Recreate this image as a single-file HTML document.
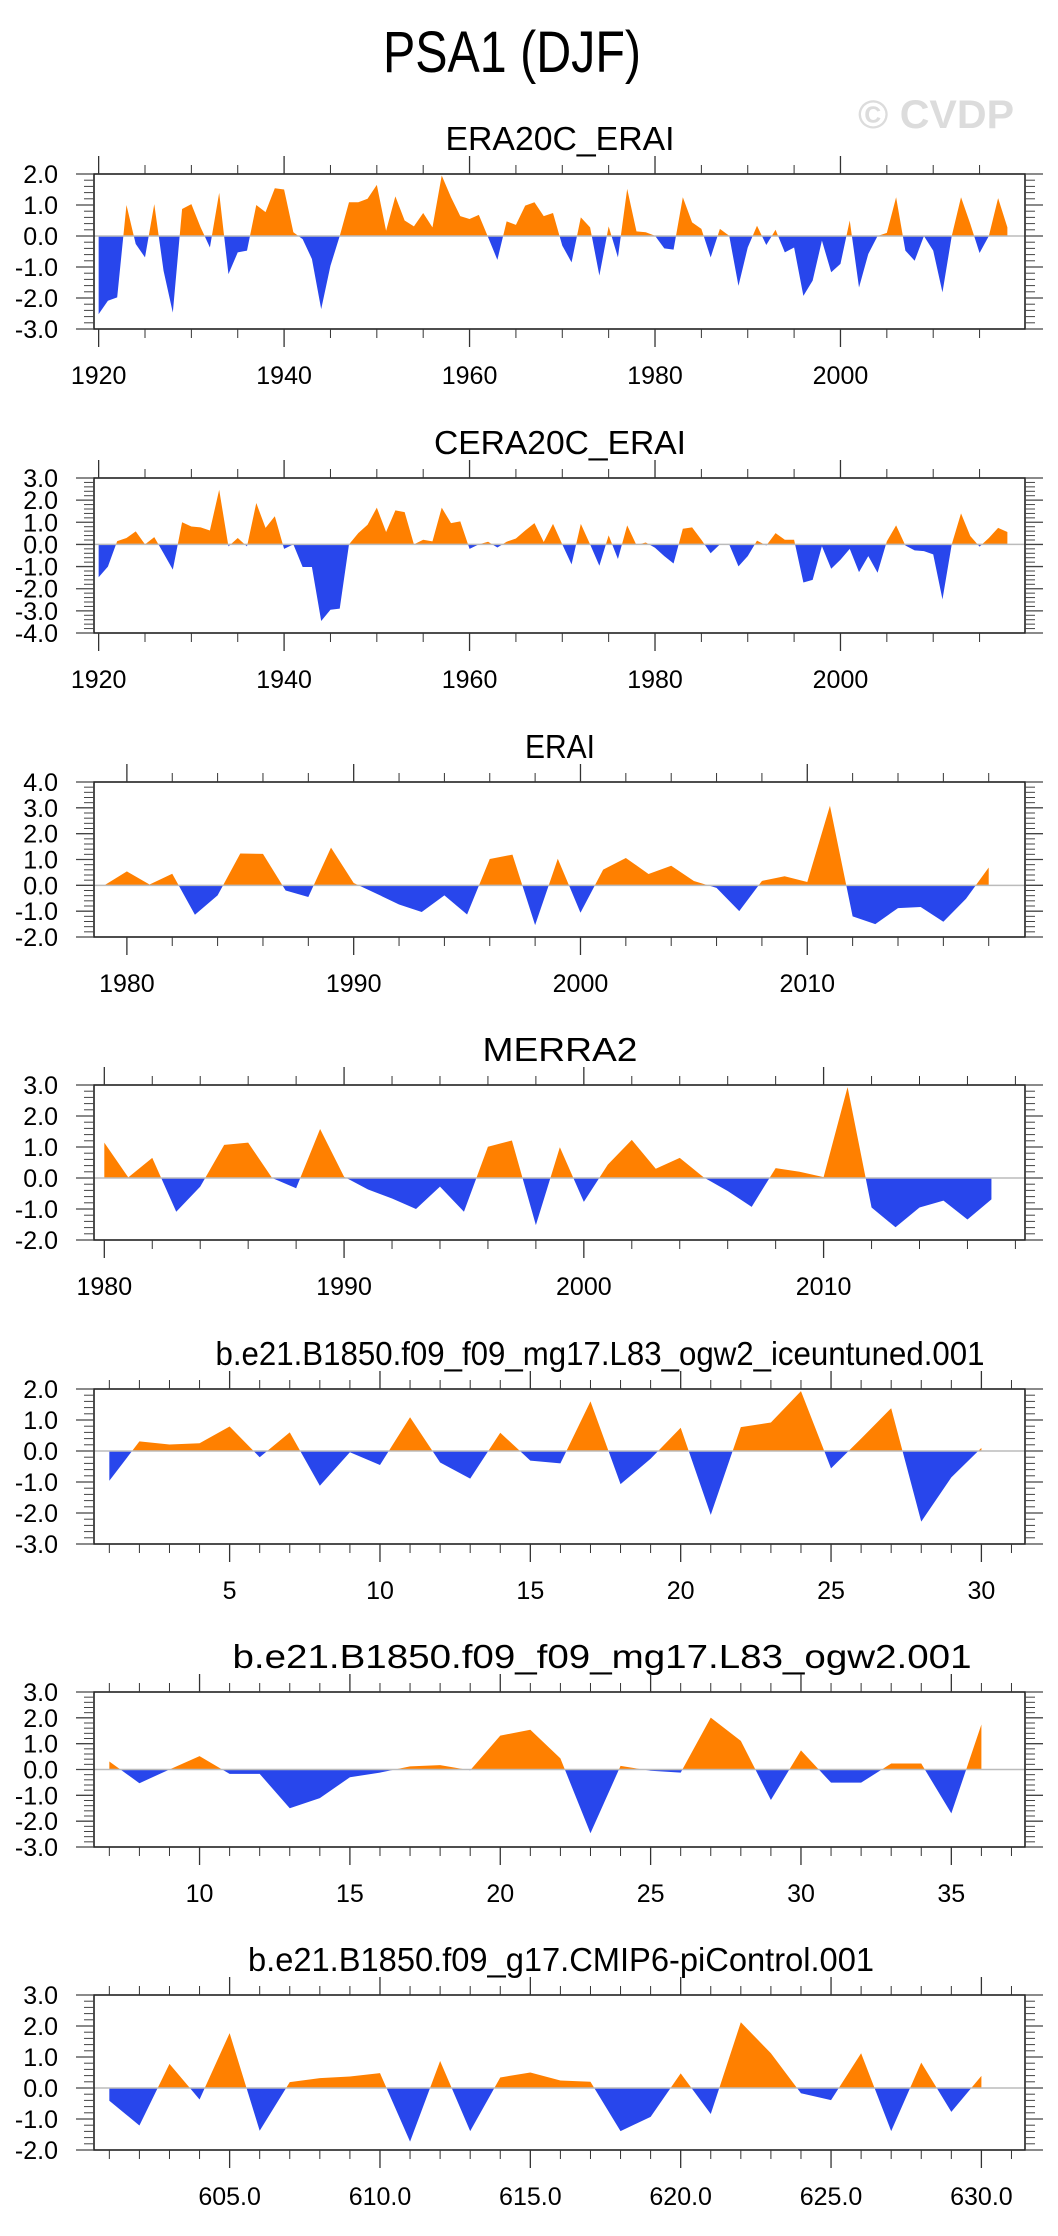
<!DOCTYPE html>
<html><head><meta charset="utf-8"><style>
html,body{margin:0;padding:0;background:#fff;}
svg{display:block;font-family:"Liberation Sans",Arial,sans-serif;}
</style></head><body>
<svg id="chart" width="1058" height="2236" viewBox="0 0 1058 2236" xmlns="http://www.w3.org/2000/svg">
<text x="512" y="72" font-size="58" text-anchor="middle" textLength="258" lengthAdjust="spacingAndGlyphs">PSA1 (DJF)</text>
<text x="936" y="128" font-size="40" font-weight="bold" fill="#dcdcdc" text-anchor="middle" textLength="156" lengthAdjust="spacingAndGlyphs">© CVDP</text>
</svg>
<script>
const era20cYears = [1920, 2018];
const era20cValues = [-2.52,-2.09,-1.98,1.0,-0.26,-0.69,1.03,-1.12,-2.47,0.87,1.03,0.28,-0.37,1.39,-1.23,-0.53,-0.47,1.0,0.77,1.54,1.5,0.12,-0.1,-0.74,-2.36,-0.96,0,1.09,1.09,1.2,1.65,0.17,1.28,0.5,0.31,0.74,0.28,1.95,1.25,0.64,0.55,0.68,-0.04,-0.77,0.47,0.36,0.98,1.09,0.64,0.74,-0.31,-0.85,0.6,0.28,-1.28,0.31,-0.69,1.52,0.15,0.12,0.01,-0.4,-0.44,1.25,0.44,0.23,-0.69,0.23,0.01,-1.61,-0.37,0.33,-0.29,0.2,-0.53,-0.37,-1.93,-1.44,-0.15,-1.17,-0.9,0.5,-1.66,-0.58,0,0.1,1.25,-0.47,-0.8,0,-0.47,-1.82,0,1.25,0.39,-0.55,0,1.22,0.28];
const cera20cValues = [-1.48,-1.0,0.15,0.29,0.59,0,0.33,-0.4,-1.14,1.0,0.81,0.77,0.63,2.47,-0.09,0.29,-0.09,1.87,0.75,1.27,-0.2,0,-1.02,-1.02,-3.46,-2.95,-2.9,0,0.51,0.89,1.66,0.56,1.54,1.46,0,0.21,0.14,1.66,0.96,1.04,-0.2,0,0.12,-0.14,0.12,0.27,0.63,0.96,0.11,0.93,0,-0.9,0.93,0,-0.96,0.41,-0.66,0.86,-0.03,0.09,-0.15,-0.53,-0.86,0.71,0.77,0.21,-0.4,0,0,-0.99,-0.53,0.17,-0.05,0.51,0.21,0.21,-1.72,-1.6,-0.08,-1.1,-0.69,-0.2,-1.25,-0.53,-1.28,0.14,0.86,-0.05,-0.27,-0.3,-0.45,-2.48,0,1.4,0.38,-0.1,0.29,0.75,0.56];
const eraiValues = [0.0,0.54,0.03,0.45,-1.14,-0.39,1.23,1.22,-0.2,-0.45,1.46,0.09,-0.32,-0.74,-1.03,-0.39,-1.13,1.02,1.19,-1.54,1.03,-1.06,0.61,1.06,0.44,0.76,0.17,-0.1,-1.0,0.17,0.35,0.13,3.08,-1.2,-1.5,-0.88,-0.84,-1.41,-0.52,0.69];
const merra2Values = [1.14,0.02,0.65,-1.09,-0.28,1.07,1.14,0,-0.33,1.58,0.04,-0.37,-0.66,-1.0,-0.28,-1.09,1.01,1.21,-1.52,0.99,-0.77,0.43,1.23,0.3,0.65,0.02,-0.42,-0.93,0.32,0.2,0.03,2.93,-0.95,-1.59,-0.95,-0.73,-1.34,-0.69];
const iceuntunedValues = [-0.96,0.31,0.21,0.25,0.79,-0.2,0.6,-1.12,-0.04,-0.45,1.09,-0.37,-0.89,0.59,-0.31,-0.4,1.6,-1.07,-0.25,0.75,-2.06,0.77,0.92,1.93,-0.56,0.4,1.38,-2.28,-0.85,0.1];
const ogw2Values = [0.31,-0.53,0,0.52,-0.17,-0.17,-1.5,-1.11,-0.3,-0.12,0.12,0.17,-0.03,1.31,1.54,0.43,-2.47,0.14,-0.05,-0.12,2.01,1.11,-1.18,0.74,-0.51,-0.51,0.23,0.23,-1.7,1.74];
const picontrolValues = [-0.41,-1.21,0.78,-0.37,1.77,-1.38,0.19,0.32,0.37,0.48,-1.73,0.87,-1.39,0.34,0.5,0.24,0.2,-1.39,-0.93,0.47,-0.84,2.12,1.12,-0.17,-0.39,1.12,-1.39,0.82,-0.77,0.39];

const panels = [
 {name:"era20c-erai", title:"ERA20C_ERAI", tw:229, cx:560, top:174, x0:1919.5, x1:2019.9, start:1920, vals:era20cValues, ymax:2, ymin:-3, major:20, minor:5, labels:[1920,1940,1960,1980,2000], fmt:v=>String(v)},
 {name:"cera20c-erai", title:"CERA20C_ERAI", tw:252, cx:560, top:478, x0:1919.5, x1:2019.9, start:1920, vals:cera20cValues, ymax:3, ymin:-4, major:20, minor:5, labels:[1920,1940,1960,1980,2000], fmt:v=>String(v)},
 {name:"erai", title:"ERAI", tw:70, cx:560, top:782, x0:1978.55, x1:2019.6, start:1979, vals:eraiValues, ymax:4, ymin:-2, major:10, minor:2, labels:[1980,1990,2000,2010], fmt:v=>String(v)},
 {name:"merra2", title:"MERRA2", tw:155, cx:560, top:1085, x0:1979.57, x1:2018.4, start:1980, vals:merra2Values, ymax:3, ymin:-2, major:10, minor:2, labels:[1980,1990,2000,2010], fmt:v=>String(v)},
 {name:"iceuntuned", title:"b.e21.B1850.f09_f09_mg17.L83_ogw2_iceuntuned.001", tw:769, cx:600, top:1389, x0:0.49, x1:31.45, start:1, vals:iceuntunedValues, ymax:2, ymin:-3, major:5, minor:1, labels:[5,10,15,20,25,30], fmt:v=>String(v)},
 {name:"ogw2", title:"b.e21.B1850.f09_f09_mg17.L83_ogw2.001", tw:739, cx:602, top:1692, x0:6.49, x1:37.45, start:7, vals:ogw2Values, ymax:3, ymin:-3, major:5, minor:1, labels:[10,15,20,25,30,35], fmt:v=>String(v)},
 {name:"picontrol", title:"b.e21.B1850.f09_g17.CMIP6-piControl.001", tw:626, cx:561, top:1995, x0:600.49, x1:631.45, start:601, vals:picontrolValues, ymax:3, ymin:-2, major:5, minor:1, labels:[605,610,615,620,625,630], fmt:v=>v.toFixed(1)}
];
const NS="http://www.w3.org/2000/svg";
const svg=document.getElementById('chart');
function mk(tag,attrs,parent){const e=document.createElementNS(NS,tag);for(const k in attrs)e.setAttribute(k,attrs[k]);(parent||svg).appendChild(e);return e;}
const L=94,R=1025,H=155;
panels.forEach((p,pi)=>{
  const g=mk('g',{});
  
  
  const T=p.top,B=T+H;
  const xs=v=>L+(v-p.x0)/(p.x1-p.x0)*(R-L);
  const ys=v=>T+(p.ymax-v)/(p.ymax-p.ymin)*H;
  const t=mk('text',{x:p.cx,y:T-24,'font-size':33,'text-anchor':'middle',textLength:p.tw,lengthAdjust:'spacingAndGlyphs'},g);
  t.textContent=p.title;
  
  
  const z=ys(0);
  let d='M'+xs(p.start)+','+z;
  p.vals.forEach((v,i)=>{d+=' L'+xs(p.start+i).toFixed(2)+','+ys(v).toFixed(2);});
  d+=' L'+xs(p.start+p.vals.length-1)+','+z+' Z';
  const cpA=mk('clipPath',{id:'ca'+pi},g); mk('rect',{x:L,y:T,width:R-L,height:z-T},cpA);
  const cpB=mk('clipPath',{id:'cb'+pi},g); mk('rect',{x:L,y:z,width:R-L,height:B-z},cpB);
  const pa=mk('path',{d:d,fill:'#ff8000','clip-path':'url(#ca'+pi+')'},g);
  
  
  const pb=mk('path',{d:d,fill:'#2846ec','clip-path':'url(#cb'+pi+')'},g);
  
  
  const zl=mk('line',{x1:L,x2:R,y1:z,y2:z,stroke:'#bbb','stroke-width':1.5},g);
  
  
  const fr=mk('rect',{x:L,y:T,width:R-L,height:H,fill:'none',stroke:'#222','stroke-width':1.6},g);
  
  
  const first=Math.ceil(p.x0/p.minor)*p.minor;
  for(let v=first; v<=p.x1; v+=p.minor){
    const x=xs(v); const maj=Math.abs(v/p.major-Math.round(v/p.major))<1e-6;
    const len=maj?18:9;
    mk('line',{x1:x,x2:x,y1:B,y2:B+len,stroke:'#333','stroke-width':maj?1.3:1},g);
    mk('line',{x1:x,x2:x,y1:T,y2:T-len,stroke:'#333','stroke-width':maj?1.3:1},g);
  }
  p.labels.forEach(v=>{
    const lt=mk('text',{x:xs(v),y:B+55,'font-size':25,'text-anchor':'middle'},g);
    lt.textContent=p.fmt(v);
    
    
  });
  for(let k=0;k<=Math.round((p.ymax-p.ymin)/0.2);k++){
    const v=p.ymax-k*0.2; const y=ys(v); const maj=k%5==0;
    const len=maj?18:10;
    mk('line',{x1:L-len,x2:L,y1:y,y2:y,stroke:'#444','stroke-width':maj?1.3:1},g);
    mk('line',{x1:R,x2:R+len,y1:y,y2:y,stroke:'#444','stroke-width':maj?1.3:1},g);
  }
  for(let v=p.ymax; v>=p.ymin-1e-6; v-=1){
    const lt=mk('text',{x:58,y:ys(v)+9,'font-size':25,'text-anchor':'end'},g);
    lt.textContent=v.toFixed(1).replace('-0.0','0.0');
    
    
  }
});
</script>
</body></html>
